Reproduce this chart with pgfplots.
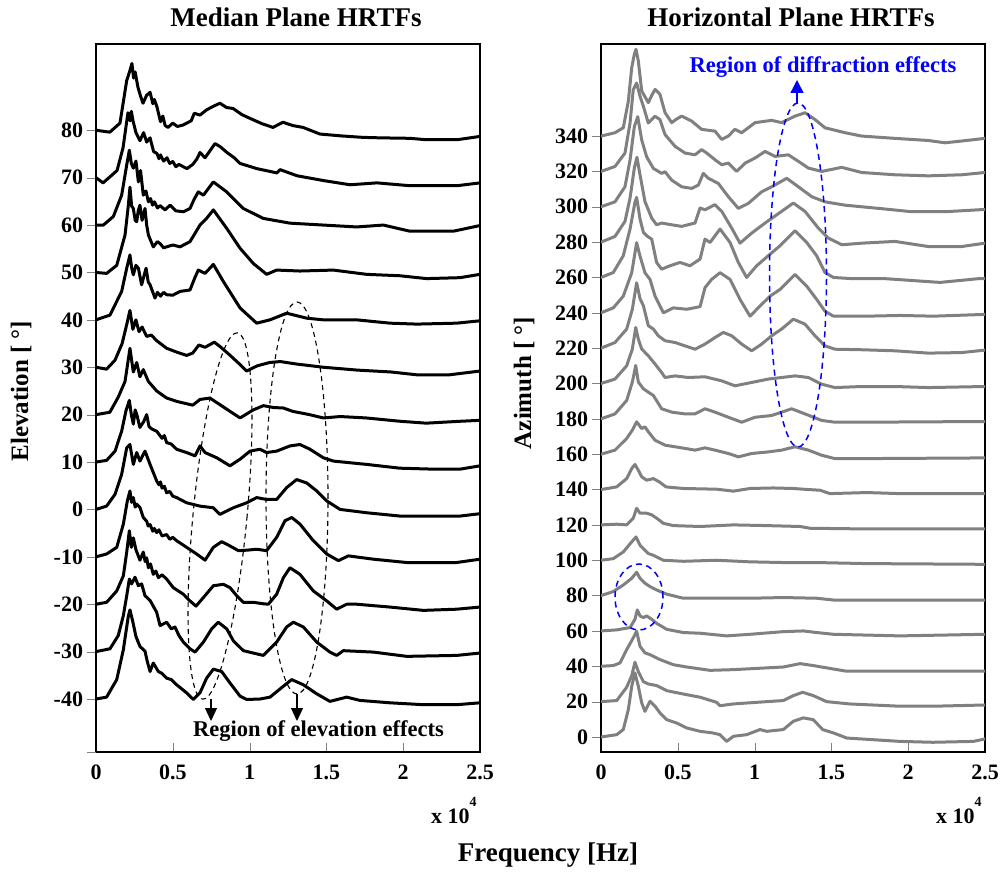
\documentclass[border=0pt]{standalone}
\usepackage{fontspec}
\setmainfont{Liberation Serif}
\usepackage{pgfplots}
\pgfplotsset{compat=1.18}
\usetikzlibrary{arrows.meta}
\begin{document}
\begin{tikzpicture}
\useasboundingbox (0pt,0pt) rectangle (1003pt,879pt);
\pgfplotsset{
  hrtf/.style={
    scale only axis, width=384pt, height=708pt, anchor=south west,
    xmin=0, xmax=2.5,
    xtick={0,0.5,1,1.5,2,2.5}, xticklabels={0,0.5,1,1.5,2,2.5},
    tick align=outside, major tick length=9pt,
    xtick pos=bottom, ytick pos=left,
    xtick style={yshift=9pt},
    ticklabel style={font=\fontsize{22}{24}\selectfont\bfseries},
    line width=1.2pt,
  },
  lc/.style={black, line width=3pt, line join=round, line cap=round},
  rc/.style={gray, line width=3pt, line join=round, line cap=round},
}
% ---------------- Median plane ----------------
\begin{axis}[hrtf, at={(96pt,127pt)}, ymin=-51.18, ymax=98.2,
  ytick={-40,-30,-20,-10,0,10,20,30,40,50,60,70,80},
  yticklabels={-40,-30,-20,-10,0,10,20,30,40,50,60,70,80},
  extra y ticks={-51.18}, extra y tick labels={}]
\addplot[lc] coordinates {(0,80) (0.09,79.6) (0.156,81.5) (0.20,90.5) (0.22,92.5) (0.234,94.1) (0.245,91.0) (0.255,92.3) (0.273,89.1) (0.29,87.2) (0.306,85.7) (0.33,87.4) (0.352,88.0) (0.37,85.6) (0.38,86.5) (0.397,84.9) (0.42,81.8) (0.435,83.0) (0.45,81.0) (0.469,80.6) (0.50,81.5) (0.53,80.8) (0.566,81.1) (0.62,82.0) (0.64,83.6) (0.677,83.2) (0.72,84.3) (0.76,85.0) (0.807,85.7) (0.85,84.8) (0.892,84.6) (0.95,83.3) (1.003,82.5) (1.08,81.4) (1.152,80.6) (1.217,81.7) (1.28,81.0) (1.348,80.6) (1.458,79.2) (1.6,78.8) (1.738,78.5) (1.85,78.4) (2.044,78.3) (2.15,78.0) (2.35,78.0) (2.5,78.7)};
\addplot[lc] coordinates {(0,70) (0.046,68.9) (0.137,71.5) (0.176,76.3) (0.208,83.7) (0.222,82) (0.23,84) (0.241,82.0) (0.26,79.5) (0.286,77.8) (0.31,79.5) (0.33,77.5) (0.352,78.4) (0.375,75.5) (0.397,75.1) (0.41,74.0) (0.42,74.8) (0.44,73.5) (0.462,74.2) (0.48,73.0) (0.50,73.4) (0.52,72.3) (0.54,72.8) (0.592,71.9) (0.63,72.8) (0.658,74.0) (0.677,75.3) (0.71,74.2) (0.775,77.2) (0.81,76.5) (0.853,75.3) (0.90,74.2) (0.938,73.0) (1.048,71.9) (1.178,71.0) (1.198,71.7) (1.309,70.4) (1.478,69.4) (1.654,68.5) (1.829,68.9) (2.044,68.3) (2.35,68.3) (2.5,68.9)};
\addplot[lc] coordinates {(0,60) (0.048,60) (0.113,61.8) (0.167,66.3) (0.20,72.7) (0.217,75.8) (0.23,73) (0.243,72.0) (0.26,73.5) (0.276,69.1) (0.29,71.5) (0.308,66.3) (0.325,67.2) (0.341,64.9) (0.355,65.6) (0.368,64.2) (0.38,64.9) (0.40,63.6) (0.417,64.1) (0.45,63.2) (0.482,64.2) (0.52,63.0) (0.569,62.8) (0.612,63.5) (0.64,65.5) (0.666,67.0) (0.699,66.3) (0.764,69.1) (0.851,67.0) (0.959,63.5) (1.089,61.4) (1.263,60.4) (1.48,60) (1.697,59.6) (1.871,60) (2.044,58.7) (2.326,58.7) (2.5,59.9)};
\addplot[lc] coordinates {(0,50) (0.069,49.8) (0.135,51.5) (0.189,57.9) (0.21,64) (0.221,68) (0.232,64) (0.243,63.5) (0.255,61) (0.265,60.7) (0.275,63) (0.286,64.2) (0.30,61) (0.319,63.5) (0.33,60) (0.341,57.9) (0.373,55.4) (0.40,56.5) (0.417,56.1) (0.44,55.2) (0.46,55.4) (0.50,55.8) (0.547,55.4) (0.612,56.5) (0.677,60) (0.72,61.4) (0.764,63.2) (0.851,59.3) (0.938,55.1) (1.024,51.9) (1.111,49.6) (1.176,50.5) (1.328,50.3) (1.545,50.5) (1.762,49.6) (1.979,49.3) (2.153,48.7) (2.37,48.9) (2.5,49.6)};
\addplot[lc] coordinates {(0,40) (0.091,41) (0.167,46) (0.2,50.9) (0.221,53.7) (0.232,51) (0.243,49.5) (0.26,51.5) (0.276,50.9) (0.297,47.4) (0.31,49) (0.326,50.9) (0.34,48) (0.352,47.4) (0.384,44.6) (0.40,45.8) (0.42,45.0) (0.44,45.8) (0.46,45.3) (0.50,45.2) (0.547,46) (0.612,46.3) (0.645,49) (0.666,50.5) (0.71,49.8) (0.764,51.7) (0.829,48.1) (0.938,42.5) (1.046,39.3) (1.133,40) (1.241,41.4) (1.372,40.35) (1.48,40) (1.697,40) (1.914,39.3) (2.088,39.1) (2.348,39.3) (2.5,39.8)};
\addplot[lc] coordinates {(0,30) (0.069,29.6) (0.124,31.5) (0.17,35) (0.2,39) (0.221,42) (0.24,38) (0.26,40) (0.28,37.5) (0.30,38.5) (0.33,36.5) (0.36,36.8) (0.395,35.6) (0.46,34) (0.525,33.2) (0.59,32.5) (0.63,33) (0.67,34.7) (0.71,34.2) (0.77,35.3) (0.81,34.3) (0.87,32.6) (0.94,30.5) (0.98,29.2) (1.05,30.3) (1.13,31.0) (1.2,31.2) (1.3,30.7) (1.48,30) (1.7,29.4) (1.92,29.0) (2.09,28.4) (2.3,28.4) (2.5,29.2)};
\addplot[lc] coordinates {(0,20) (0.09,20.5) (0.145,23.7) (0.189,27) (0.221,34) (0.243,29) (0.265,31) (0.286,28) (0.308,29.5) (0.341,27) (0.395,25) (0.46,23.5) (0.525,22.8) (0.59,22.3) (0.63,22) (0.677,23.2) (0.742,23.5) (0.807,22.1) (0.872,20.7) (0.938,19.3) (1.024,21.0) (1.09,21.9) (1.155,21.5) (1.22,21.4) (1.28,20.7) (1.39,20.0) (1.48,19.3) (1.59,19.6) (1.76,19.3) (1.98,18.6) (2.15,18.2) (2.37,18.6) (2.5,18.8)};
\addplot[lc] coordinates {(0,10) (0.069,10.35) (0.124,12.3) (0.167,16.5) (0.195,20.8) (0.217,23) (0.23,20) (0.243,18.0) (0.255,21) (0.265,20.1) (0.286,17.3) (0.31,18.5) (0.33,20.0) (0.345,17.5) (0.362,17) (0.395,16.5) (0.43,15) (0.445,15.6) (0.46,14.1) (0.49,13.8) (0.525,12.7) (0.59,12.0) (0.645,11.3) (0.677,13.4) (0.71,12.0) (0.786,10.9) (0.872,9.2) (0.938,10.6) (1.003,12.3) (1.068,12.7) (1.111,12.0) (1.176,12.3) (1.263,13.4) (1.328,13.7) (1.393,12.7) (1.48,10.9) (1.545,10.2) (1.762,9.5) (1.979,8.7) (2.196,8.5) (2.37,8.5) (2.5,9.2)};
\addplot[lc] coordinates {(0,0) (0.069,0.7) (0.124,3.2) (0.167,7.4) (0.20,13.0) (0.221,13.7) (0.243,9.5) (0.265,12.0) (0.286,10.2) (0.319,12.3) (0.352,9.5) (0.395,6.0) (0.41,5.2) (0.42,5.8) (0.43,4.5) (0.445,4.9) (0.46,3.5) (0.48,3.8) (0.50,2.8) (0.525,2.5) (0.59,1.4) (0.677,0.7) (0.764,0.35) (0.807,-1.05) (0.894,0.35) (0.981,1.4) (1.046,2.5) (1.111,2.1) (1.176,2.1) (1.241,4.6) (1.306,6.3) (1.371,5.6) (1.437,3.9) (1.502,1.8) (1.589,0) (1.762,-0.7) (1.979,-1.4) (2.196,-1.4) (2.37,-1.4) (2.5,-0.9)};
\addplot[lc] coordinates {(0,-10) (0.069,-9.4) (0.135,-8.0) (0.178,-3.1) (0.204,1.8) (0.221,3.9) (0.232,1.5) (0.243,2.5) (0.255,0.5) (0.265,1.1) (0.286,0.4) (0.308,-1.7) (0.33,-2.5) (0.34,-3.5) (0.352,-3.2) (0.37,-4.6) (0.38,-4.0) (0.395,-4.9) (0.41,-4.3) (0.43,-5.6) (0.46,-5.3) (0.48,-6.3) (0.50,-5.9) (0.525,-6.6) (0.59,-8.0) (0.655,-9.4) (0.71,-10.7) (0.764,-8.0) (0.818,-6.8) (0.872,-7.7) (0.927,-8.7) (0.981,-8.6) (1.046,-8.4) (1.111,-8.7) (1.176,-5.9) (1.23,-2.4) (1.274,-1.7) (1.328,-3.1) (1.415,-6.6) (1.502,-9.4) (1.578,-10.8) (1.643,-9.8) (1.806,-10.5) (2.023,-11.2) (2.348,-11.2) (2.5,-10.5)};
\addplot[lc] coordinates {(0,-20) (0.069,-19.6) (0.135,-17.2) (0.178,-14) (0.2,-9) (0.217,-4.5) (0.23,-8) (0.243,-6) (0.26,-8.5) (0.286,-10.7) (0.308,-9) (0.32,-11) (0.33,-10.2) (0.341,-12.3) (0.355,-11.5) (0.373,-13.7) (0.39,-13) (0.406,-14.4) (0.43,-13.8) (0.46,-14.7) (0.503,-16.5) (0.569,-17.9) (0.612,-19.3) (0.651,-20.4) (0.699,-18.6) (0.764,-16.1) (0.829,-15.8) (0.872,-16.5) (0.916,-18.2) (0.959,-19.6) (1.024,-19.6) (1.089,-19.9) (1.122,-20) (1.176,-17.9) (1.22,-14.4) (1.263,-12.3) (1.328,-13.7) (1.415,-17.2) (1.502,-19.3) (1.567,-21.05) (1.632,-20) (1.697,-20) (1.914,-20.6) (2.131,-21.3) (2.348,-21.05) (2.5,-20.6)};
\addplot[lc] coordinates {(0,-30) (0.091,-29.4) (0.145,-26.6) (0.178,-22.4) (0.20,-18.2) (0.217,-14.7) (0.232,-15.7) (0.254,-14.3) (0.276,-16.1) (0.297,-15.7) (0.319,-18.2) (0.352,-19.2) (0.395,-21.7) (0.417,-24.5) (0.46,-23.8) (0.49,-25.2) (0.514,-24.8) (0.54,-26.6) (0.569,-28.0) (0.612,-29.4) (0.645,-30.1) (0.699,-28.0) (0.753,-25.2) (0.796,-23.8) (0.851,-25.2) (0.894,-27.7) (0.959,-29.8) (1.089,-30.8) (1.176,-28.0) (1.241,-24.8) (1.285,-23.8) (1.35,-24.8) (1.437,-28.0) (1.523,-30.1) (1.567,-30.8) (1.61,-29.8) (1.806,-30.1) (2.023,-31.0) (2.348,-30.8) (2.5,-30.3)};
\addplot[lc] coordinates {(0,-40) (0.069,-39.6) (0.135,-35.9) (0.178,-29.6) (0.21,-22.6) (0.221,-21.2) (0.239,-23.6) (0.26,-26.8) (0.286,-28.9) (0.319,-29.9) (0.334,-32.1) (0.352,-34.2) (0.373,-32.4) (0.406,-34.2) (0.43,-34.6) (0.46,-35.6) (0.49,-35.9) (0.525,-37.0) (0.59,-38.7) (0.634,-40.1) (0.677,-38.7) (0.72,-35.6) (0.764,-33.7) (0.818,-34.2) (0.872,-36.6) (0.938,-39.4) (0.981,-40.1) (1.068,-40) (1.133,-39.6) (1.22,-37.3) (1.274,-35.9) (1.35,-37.0) (1.437,-38.9) (1.523,-40.5) (1.632,-39.6) (1.719,-40.3) (1.914,-40.8) (2.131,-41.2) (2.348,-41.2) (2.5,-40.8)};
\end{axis}
% ---------------- Horizontal plane ----------------
\begin{axis}[hrtf, at={(601pt,127pt)}, ymin=-8.5, ymax=392.1,
  ytick={0,20,40,60,80,100,120,140,160,180,200,220,240,260,280,300,320,340},
  yticklabels={0,20,40,60,80,100,120,140,160,180,200,220,240,260,280,300,320,340}]
\addplot[rc] coordinates {(0,340) (0.091,341.9) (0.145,344.7) (0.178,359.8) (0.2,378.7) (0.217,386.3) (0.228,389.1) (0.243,382.5) (0.265,365.5) (0.308,358.9) (0.33,363) (0.352,366.4) (0.384,363.6) (0.417,353.2) (0.46,347.6) (0.49,349.5) (0.525,351.3) (0.59,348.5) (0.655,343.8) (0.742,342.8) (0.786,338.1) (0.829,340) (0.872,343.8) (0.916,341.9) (1.003,347.6) (1.111,348.9) (1.176,347.6) (1.263,351.3) (1.328,353.2) (1.393,349.4) (1.458,344.7) (1.589,341.9) (1.697,340) (1.914,338.7) (2.131,337.5) (2.24,336.2) (2.348,337.2) (2.5,338.7)};
\addplot[rc] coordinates {(0,320) (0.091,322.8) (0.156,330.4) (0.189,347.4) (0.21,366.3) (0.232,370) (0.254,362.5) (0.276,356.8) (0.308,347.4) (0.352,351.2) (0.384,349.3) (0.417,340.8) (0.482,334.2) (0.547,330.4) (0.612,329.4) (0.655,332.3) (0.688,330.4) (0.742,326.6) (0.786,323.8) (0.829,324.7) (0.883,320) (0.938,324.7) (1.003,327.6) (1.068,331.3) (1.133,328.5) (1.22,329.4) (1.285,325.7) (1.35,321.9) (1.437,320) (1.567,322.3) (1.697,319.4) (1.914,318.1) (2.131,317.5) (2.348,318.1) (2.5,319.4)};
\addplot[rc] coordinates {(0,300) (0.091,302.8) (0.156,311.3) (0.189,326.4) (0.217,345.3) (0.239,351) (0.265,337.8) (0.297,328.3) (0.341,321.7) (0.395,318.9) (0.417,319.8) (0.46,315.1) (0.525,311.3) (0.59,310.4) (0.634,312.3) (0.666,318.9) (0.699,316.1) (0.764,313.2) (0.829,305.7) (0.894,299.1) (0.959,301.9) (1.046,308.5) (1.111,311.3) (1.209,316.1) (1.285,311.3) (1.372,305.7) (1.458,302.8) (1.589,300.9) (1.806,299.1) (2.023,297.2) (2.24,297.2) (2.5,298.5)};
\addplot[rc] coordinates {(0,280) (0.091,283.2) (0.156,291.7) (0.189,304.9) (0.217,321.9) (0.234,328) (0.254,318.1) (0.286,303) (0.33,293.6) (0.362,289.8) (0.395,290.8) (0.46,289.8) (0.525,288.9) (0.612,290.8) (0.645,299.3) (0.677,298.3) (0.742,301.2) (0.786,297.4) (0.851,287.9) (0.905,279.4) (0.981,285.1) (1.068,290.8) (1.176,297.4) (1.252,302.1) (1.328,297.4) (1.415,287.9) (1.48,282.3) (1.567,278.5) (1.697,279.4) (1.914,280.4) (2.131,277.5) (2.348,277.5) (2.5,279.4)};
\addplot[rc] coordinates {(0,260) (0.08,262.8) (0.145,272.3) (0.189,287.4) (0.221,302.5) (0.232,305.3) (0.254,293.1) (0.276,285.5) (0.297,283.6) (0.33,281.7) (0.362,268.5) (0.395,264.7) (0.449,266.6) (0.514,268.5) (0.579,266.6) (0.645,270.4) (0.677,281.7) (0.71,279.8) (0.775,287.4) (0.84,279.8) (0.894,268.5) (0.948,260) (1.013,266.6) (1.089,272.3) (1.165,277.9) (1.263,286.4) (1.339,279.8) (1.404,272.3) (1.458,262.8) (1.513,260) (1.621,259.4) (1.838,259.4) (2.055,258.1) (2.207,257.2) (2.467,259.4) (2.5,259.4)};
\addplot[rc] coordinates {(0,240) (0.08,242.8) (0.145,249.4) (0.2,262.7) (0.232,279.7) (0.254,272.1) (0.286,262.7) (0.319,258.9) (0.352,249.4) (0.406,240) (0.471,242.8) (0.558,242) (0.645,243.5) (0.677,254.2) (0.72,258.9) (0.775,262.7) (0.84,258.9) (0.905,247.6) (0.97,238.1) (1.035,243.8) (1.1,249.4) (1.165,253.2) (1.263,261.7) (1.339,255.1) (1.404,247.6) (1.458,240.9) (1.513,238.1) (1.73,238.1) (1.947,238.5) (2.164,238.1) (2.5,239.1)};
\addplot[rc] coordinates {(0,220) (0.091,223.2) (0.167,230.8) (0.204,242) (0.232,257) (0.254,248) (0.276,244) (0.308,232.7) (0.341,230.8) (0.373,227) (0.417,224.2) (0.482,223.2) (0.547,221.3) (0.612,219.4) (0.677,222.3) (0.742,226) (0.796,228.9) (0.851,227) (0.916,222.3) (0.981,218.5) (1.046,222.3) (1.111,227) (1.176,230.8) (1.252,236.4) (1.328,233.6) (1.393,227) (1.458,221.3) (1.523,219.4) (1.697,219.1) (1.914,218.5) (2.131,217.2) (2.348,217.5) (2.5,218.9)};
\addplot[rc] coordinates {(0,200) (0.091,202.5) (0.167,210) (0.204,219.5) (0.226,231.7) (0.243,225.1) (0.265,219.5) (0.308,215.7) (0.352,211) (0.395,206.2) (0.417,203.4) (0.482,204.3) (0.569,203.4) (0.677,203.8) (0.786,201.5) (0.872,198.7) (0.981,200.6) (1.089,202.5) (1.176,203.4) (1.263,204.3) (1.35,203.4) (1.437,199.6) (1.523,197.7) (1.697,198.3) (1.914,198.3) (2.131,197.7) (2.5,198.3)};
\addplot[rc] coordinates {(0,180) (0.091,182.8) (0.167,190.4) (0.204,200.8) (0.226,210.2) (0.243,200.8) (0.276,197) (0.308,195.1) (0.341,193.2) (0.395,185.7) (0.46,183.8) (0.547,182.8) (0.612,182.8) (0.677,185.7) (0.742,183.8) (0.829,180.9) (0.916,178.1) (1.003,180.9) (1.111,181.9) (1.241,185.7) (1.328,182.8) (1.437,179.1) (1.523,178.1) (1.697,178.1) (2.1,178.3) (2.5,178.5)};
\addplot[rc] coordinates {(0,160) (0.091,162.3) (0.167,168.9) (0.204,173.6) (0.232,178.3) (0.265,174.5) (0.286,175.5) (0.308,172.7) (0.352,167.9) (0.417,165.1) (0.525,163.6) (0.612,162.3) (0.677,163.6) (0.742,162.3) (0.829,160.4) (0.894,158.5) (0.981,160.4) (1.089,161.3) (1.176,162.3) (1.263,164.2) (1.35,162.3) (1.437,159.4) (1.523,157.5) (1.697,157.5) (2.1,157.7) (2.5,157.9)};
\addplot[rc] coordinates {(0,140) (0.102,141.5) (0.167,146.2) (0.2,151.9) (0.221,154.2) (0.243,150.9) (0.265,147.2) (0.297,145.3) (0.341,146.2) (0.38,144.3) (0.423,141.5) (0.536,140.6) (0.753,140.2) (0.862,139.1) (0.97,140.6) (1.122,140.9) (1.252,140.6) (1.317,140.2) (1.426,139.6) (1.491,137.7) (1.73,138.3) (1.947,137.7) (2.5,137.7)};
\addplot[rc] coordinates {(0,120) (0.102,120.4) (0.167,120) (0.21,123.8) (0.232,129.4) (0.254,126.6) (0.297,126.6) (0.33,125.7) (0.362,123.8) (0.406,120.9) (0.471,119.6) (0.645,119.1) (0.862,120) (1.079,119.6) (1.296,119.1) (1.361,118.1) (1.73,117.7) (2.5,117.7)};
\addplot[rc] coordinates {(0,100) (0.08,100.9) (0.145,104.7) (0.2,110.4) (0.228,113.2) (0.254,108.5) (0.286,105.7) (0.308,103.8) (0.341,102.8) (0.406,100) (0.536,99.4) (0.753,100) (0.97,99.1) (1.187,98.7) (1.404,98.7) (1.73,98.1) (2.5,97.7)};
\addplot[rc] coordinates {(0,80) (0.08,82.3) (0.145,86.0) (0.2,89.8) (0.232,93.2) (0.254,89.8) (0.286,87.0) (0.319,85.1) (0.362,83.2) (0.428,80.8) (0.536,78.5) (0.753,78.5) (0.97,78.5) (1.187,78.9) (1.404,78.5) (1.513,77.5) (2.5,77.5)};
\addplot[rc] coordinates {(0,60) (0.102,60.6) (0.189,61.9) (0.221,66.6) (0.236,71.9) (0.254,68.5) (0.276,67.6) (0.297,68.5) (0.33,66.6) (0.362,64.3) (0.428,60.9) (0.536,59.1) (0.645,58.7) (0.818,57.2) (0.97,58.1) (1.187,59.6) (1.317,60) (1.404,59.1) (1.513,58.1) (1.947,57.2) (2.5,58.1)};
\addplot[rc] coordinates {(0,40) (0.08,40.4) (0.124,41.9) (0.167,49.4) (0.21,56.1) (0.232,59.8) (0.254,51.3) (0.286,47.6) (0.319,46.6) (0.384,43.8) (0.471,40.9) (0.558,39.6) (0.71,37.7) (0.862,38.1) (1.079,39.1) (1.187,39.6) (1.296,41.5) (1.382,40.4) (1.469,39.1) (1.6,37.2) (1.947,37.2) (2.5,37.2)};
\addplot[rc] coordinates {(0,20) (0.102,20.6) (0.167,28.1) (0.2,34.7) (0.221,42.3) (0.243,37) (0.276,31.3) (0.308,30.0) (0.362,29.1) (0.428,26.2) (0.536,24.3) (0.645,22.5) (0.753,19.6) (0.775,17.7) (0.862,18.7) (1.079,20) (1.187,20.6) (1.252,23.4) (1.313,25.3) (1.382,23.4) (1.469,20) (1.617,18.7) (1.947,17.4) (2.16,17.4) (2.5,18.1)};
\addplot[rc] coordinates {(0,0) (0.102,1.3) (0.145,4.2) (0.178,15.5) (0.2,28.7) (0.221,36.3) (0.243,28.7) (0.265,19.3) (0.286,14.5) (0.319,20.2) (0.352,17.4) (0.384,13.6) (0.428,9.8) (0.493,7.9) (0.558,5.1) (0.645,3.2) (0.727,2.3) (0.775,1.3) (0.818,-2.5) (0.862,0.4) (0.948,1.3) (1.035,4.2) (1.079,3.2) (1.187,4.2) (1.252,8.9) (1.317,10.8) (1.382,9.8) (1.443,4.2) (1.513,2.3) (1.6,-0.6) (1.947,-2.5) (2.16,-3.0) (2.424,-2.5) (2.5,-1.1)};
\end{axis}
% ---------------- annotations ----------------
\draw[black, line width=1.1pt, dash pattern=on 5pt off 4pt, rotate around={-5.4:(220pt,363pt)}] (220pt,363pt) ellipse [x radius=27pt, y radius=184pt];
\draw[black, line width=1.1pt, dash pattern=on 5pt off 4pt] (297pt,381pt) ellipse [x radius=31pt, y radius=196pt];
\draw[black, line width=1.2pt, -{Triangle[length=13pt,width=12pt]}] (211pt,180pt) -- (211pt,158pt);
\draw[black, line width=1.2pt, -{Triangle[length=13pt,width=12pt]}] (297pt,185pt) -- (297pt,158pt);
\node[anchor=base, font=\fontsize{22.5}{24}\selectfont\bfseries] at (318.5pt,143pt) {Region of elevation effects};
\draw[blue, line width=1.5pt, dash pattern=on 6pt off 4.5pt] (798pt,604pt) ellipse [x radius=28.5pt, y radius=172pt];
\draw[blue, line width=1.5pt, dash pattern=on 6pt off 4.5pt] (639pt,282pt) ellipse [x radius=24pt, y radius=33pt];
\draw[blue, line width=1.4pt, -{Triangle[length=13pt,width=13pt]}] (797pt,776pt) -- (797pt,799pt);
\node[anchor=base, blue, font=\fontsize{22.5}{24}\selectfont\bfseries] at (823pt,806pt) {Region of diffraction effects};
% titles and labels
\node[anchor=base, font=\fontsize{27}{30}\selectfont\bfseries] at (296pt,852pt) {Median Plane HRTFs};
\node[anchor=base, font=\fontsize{27}{30}\selectfont\bfseries] at (791pt,852pt) {Horizontal Plane HRTFs};
\node[rotate=90, font=\fontsize{25}{28}\selectfont\bfseries] at (21pt,488pt) {Elevation [ °]};
\node[rotate=90, font=\fontsize{25}{28}\selectfont\bfseries] at (524pt,496pt) {Azimuth [ °]};
\node[anchor=base west, inner sep=0pt, font=\fontsize{22}{24}\selectfont\bfseries] at (431pt,56pt) {x 10\raisebox{0.75em}{\fontsize{14}{14}\selectfont 4}};
\node[anchor=base west, inner sep=0pt, font=\fontsize{22}{24}\selectfont\bfseries] at (936pt,56pt) {x 10\raisebox{0.75em}{\fontsize{14}{14}\selectfont 4}};
\node[anchor=base, font=\fontsize{27}{30}\selectfont\bfseries] at (548pt,18pt) {Frequency [Hz]};
\end{tikzpicture}
\end{document}
